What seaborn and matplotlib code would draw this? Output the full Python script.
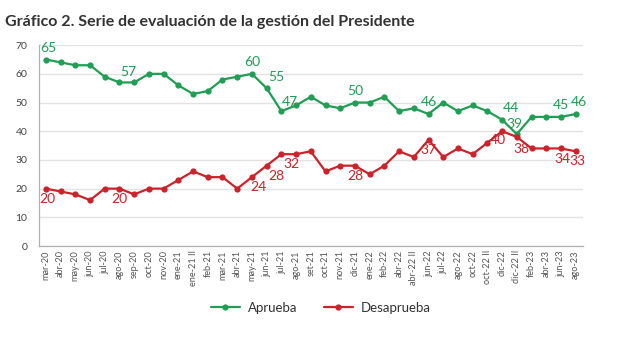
import matplotlib
matplotlib.use("Agg")
import matplotlib.pyplot as plt
import seaborn as sns
import pandas as pd
import numpy as np

periods = ["mar-20", "abr-20", "may-20", "jun-20", "jul-20", "ago-20", "sep-20", "oct-20",
           "nov-20", "ene-21", "ene-21 II", "feb-21", "mar-21", "abr-21", "may-21", "jun-21",
           "jul-21", "ago-21", "set-21", "oct-21", "nov-21", "dic-21", "ene-22", "feb-22",
           "abr-22", "abr-22 II", "jun-22", "jul-22", "ago-22", "oct-22", "oct-22 II",
           "dic-22", "dic-22 II", "feb-23", "abr-23", "jun-23", "ago-23"]
aprueba = [65, 64, 63, 63, 59, 57, 57, 60, 60, 56, 53, 54, 58, 59, 60, 55, 47, 49, 52,
           49, 48, 50, 50, 52, 47, 48, 46, 50, 47, 49, 47, 44, 39, 45, 45, 45, 46]
desaprueba = [20, 19, 18, 16, 20, 20, 18, 20, 20, 23, 26, 24, 24, 20, 24, 28, 32, 32, 33,
              26, 28, 28, 25, 28, 33, 31, 37, 31, 34, 32, 36, 40, 38, 34, 34, 34, 33]
series_names = ["Aprueba", "Desaprueba"]
labeled_aprueba = [0, 5, 14, 15, 16, 21, 26, 31, 32, 35, 36]
labeled_desaprueba = [0, 5, 14, 15, 16, 21, 26, 31, 32, 35, 36]
title = "Gráfico 2. Serie de evaluación de la gestión del Presidente"

GREEN = "#1f9e54"
RED = "#cc2229"

sns.set_theme(style="white")
plt.rcParams["font.family"] = ["Lato", "DejaVu Sans"]

n = len(periods)
df = pd.DataFrame({
    "idx": list(range(n)) * 2,
    "valor": aprueba + desaprueba,
    "serie": [series_names[0]] * n + [series_names[1]] * n,
})

fig = plt.figure(figsize=(6.17, 3.37), dpi=100)
ax = fig.add_axes([0.0624, 0.270, 0.8826, 0.596])

sns.lineplot(data=df, x="idx", y="valor", hue="serie", palette=[GREEN, RED],
             marker="o", markersize=4.5, markeredgewidth=0, linewidth=1.6,
             ax=ax, legend=True)

ax.set_xlim(-0.5, n - 0.5)
ax.set_ylim(0, 70)
ax.set_yticks(range(0, 71, 10))
ax.set_xticks(range(n))
ax.set_xticklabels(periods, rotation=90, fontsize=6.6, color="#555555")
ax.tick_params(axis="x", length=0, pad=3)
ax.set_xticks(np.arange(-0.5, n, 1), minor=True)
ax.tick_params(axis="x", which="minor", length=3, color="#aaaaaa", width=0.8)
ax.tick_params(axis="y", labelsize=7.5, labelcolor="#444444", length=0, pad=8)
ax.set_xlabel("")
ax.set_ylabel("")
ax.yaxis.grid(True, color="#e2e2e2", linewidth=1)
for s in ["top", "right"]:
    ax.spines[s].set_visible(False)
for s in ["left", "bottom"]:
    ax.spines[s].set_color("#b0b0b0")
    ax.spines[s].set_linewidth(0.9)

# data labels
g_off = {0: (2, 4), 5: (6, 3), 14: (0, 4), 15: (7, 4), 16: (6, 2), 21: (0, 4),
         26: (0, 4), 31: (6, 4), 32: (-2, 3), 35: (0, 4), 36: (2, 4)}
for i in labeled_aprueba:
    dx, dy = g_off[i]
    ax.annotate(str(aprueba[i]), (i, aprueba[i]), xytext=(dx, dy), textcoords="offset points",
                ha="center", va="bottom", fontsize=10, color=GREEN)
r_off = {0: (1, -3), 5: (0, -3), 14: (5, -3), 15: (7, -3), 16: (7, -3), 21: (0, -3),
         26: (0, -3), 31: (-3, -2), 32: (3, -4), 35: (1, -3), 36: (1, -3)}
for i in labeled_desaprueba:
    dx, dy = r_off[i]
    ax.annotate(str(desaprueba[i]), (i, desaprueba[i]), xytext=(dx, dy), textcoords="offset points",
                ha="center", va="top", fontsize=10, color=RED)

leg = ax.legend(loc="center", bbox_to_anchor=(0.52, 0.086), bbox_transform=fig.transFigure,
                ncol=2, frameon=False, fontsize=9.5, handlelength=2.2, columnspacing=2.0,
                handletextpad=0.6, title=None)
for t in leg.get_texts():
    t.set_color("#333333")

fig.text(0.008, 0.935, title, fontsize=11.5, fontweight="bold", color="#333333",
         ha="left", va="center")

fig.savefig("out.png", dpi=100)
